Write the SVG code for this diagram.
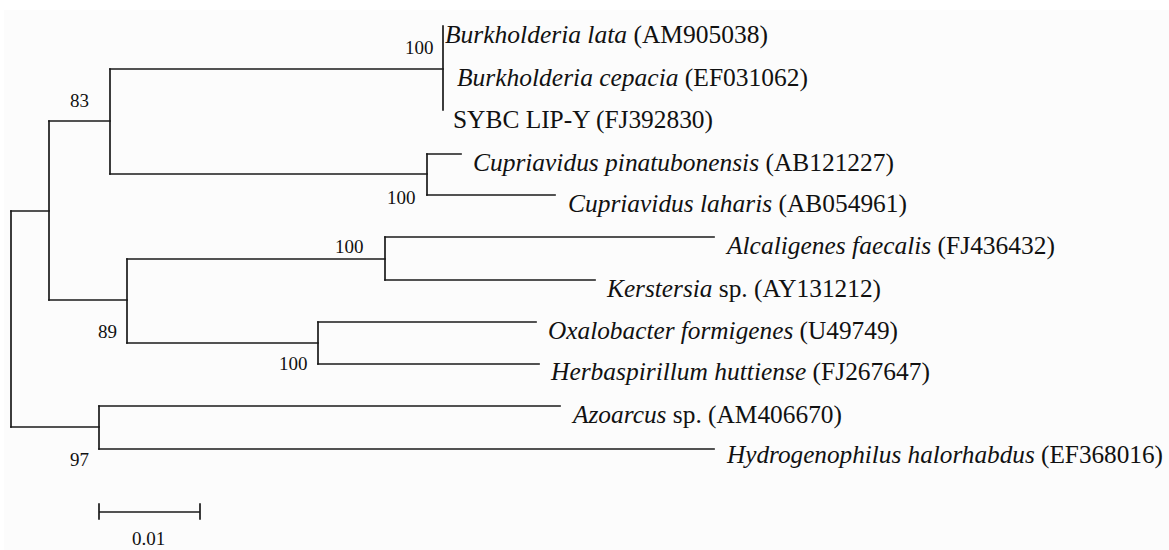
<svg xmlns="http://www.w3.org/2000/svg" width="1169" height="550" viewBox="0 0 1169 550">
<style>
.br{stroke:#1a1a1a;stroke-width:1.7;fill:none;stroke-linecap:square}
.lab{font-family:"Liberation Serif","Times New Roman",serif;font-size:25px;fill:#111}
.it{font-style:italic}
.bs{font-family:"Liberation Serif","Times New Roman",serif;font-size:19px;fill:#111}
</style>
<rect x="0" y="0" width="1169" height="550" fill="#ffffff"/>
<rect x="4" y="10" width="1165" height="540" fill="#fcfcfc"/>
<g id="connectors" class="br">
<path d="M11,211V427"/>
<path d="M11,211H49"/>
<path d="M49,121V300"/>
<path d="M49,121H110"/>
<path d="M110,69V174"/>
<path d="M110,69H443"/>
<path d="M443,26V110"/>
<path d="M110,174H427"/>
<path d="M427,154V195"/>
<path d="M427,154H461"/>
<path d="M427,195H555"/>
<path d="M49,300H127"/>
<path d="M127,259V343"/>
<path d="M127,259H385"/>
<path d="M385,237V280"/>
<path d="M385,237H714"/>
<path d="M385,280H595"/>
<path d="M127,343H318"/>
<path d="M318,322V364"/>
<path d="M318,322H536"/>
<path d="M318,364H539"/>
<path d="M11,427H99"/>
<path d="M99,406V449"/>
<path d="M99,406H560"/>
<path d="M99,449H714"/>
</g>
<g id="leaf-burkholderia-lata"><text class="lab" x="445" y="43" textLength="323" lengthAdjust="spacingAndGlyphs"><tspan class="it">Burkholderia lata</tspan> (AM905038)</text></g>
<g id="leaf-burkholderia-cepacia"><text class="lab" x="457" y="86" textLength="351" lengthAdjust="spacingAndGlyphs"><tspan class="it">Burkholderia cepacia</tspan> (EF031062)</text></g>
<g id="leaf-sybc"><text class="lab" x="453" y="128" textLength="260" lengthAdjust="spacingAndGlyphs">SYBC LIP-Y (FJ392830)</text></g>
<g id="leaf-cupriavidus-pinatubonensis"><text class="lab" x="473" y="171" textLength="421" lengthAdjust="spacingAndGlyphs"><tspan class="it">Cupriavidus pinatubonensis</tspan> (AB121227)</text></g>
<g id="leaf-cupriavidus-laharis"><text class="lab" x="568" y="212" textLength="339" lengthAdjust="spacingAndGlyphs"><tspan class="it">Cupriavidus laharis</tspan> (AB054961)</text></g>
<g id="leaf-alcaligenes"><text class="lab" x="727" y="254" textLength="328" lengthAdjust="spacingAndGlyphs"><tspan class="it">Alcaligenes faecalis</tspan> (FJ436432)</text></g>
<g id="leaf-kerstersia"><text class="lab" x="607" y="297" textLength="274" lengthAdjust="spacingAndGlyphs"><tspan class="it">Kerstersia</tspan> sp. (AY131212)</text></g>
<g id="leaf-oxalobacter"><text class="lab" x="548" y="339" textLength="350" lengthAdjust="spacingAndGlyphs"><tspan class="it">Oxalobacter formigenes</tspan> (U49749)</text></g>
<g id="leaf-herbaspirillum"><text class="lab" x="551" y="380" textLength="379" lengthAdjust="spacingAndGlyphs"><tspan class="it">Herbaspirillum huttiense</tspan> (FJ267647)</text></g>
<g id="leaf-azoarcus"><text class="lab" x="573" y="423" textLength="269" lengthAdjust="spacingAndGlyphs"><tspan class="it">Azoarcus</tspan> sp. (AM406670)</text></g>
<g id="leaf-hydrogenophilus"><text class="lab" x="727" y="463" textLength="436" lengthAdjust="spacingAndGlyphs"><tspan class="it">Hydrogenophilus halorhabdus</tspan> (EF368016)</text></g>
<g id="bootstrap-burkholderia"><text class="bs" x="405" y="54">100</text></g>
<g id="bootstrap-83"><text class="bs" x="70" y="107">83</text></g>
<g id="bootstrap-cupriavidus"><text class="bs" x="387" y="204">100</text></g>
<g id="bootstrap-alcaligenes"><text class="bs" x="335" y="253">100</text></g>
<g id="bootstrap-89"><text class="bs" x="98" y="338">89</text></g>
<g id="bootstrap-oxalobacter"><text class="bs" x="279" y="370">100</text></g>
<g id="bootstrap-97"><text class="bs" x="70" y="466">97</text></g>
<g id="scale-bar">
<path class="br" d="M99,512H200M99,504V519M200,504V519"/>
<text class="bs" x="132" y="545">0.01</text>
</g>
</svg>
